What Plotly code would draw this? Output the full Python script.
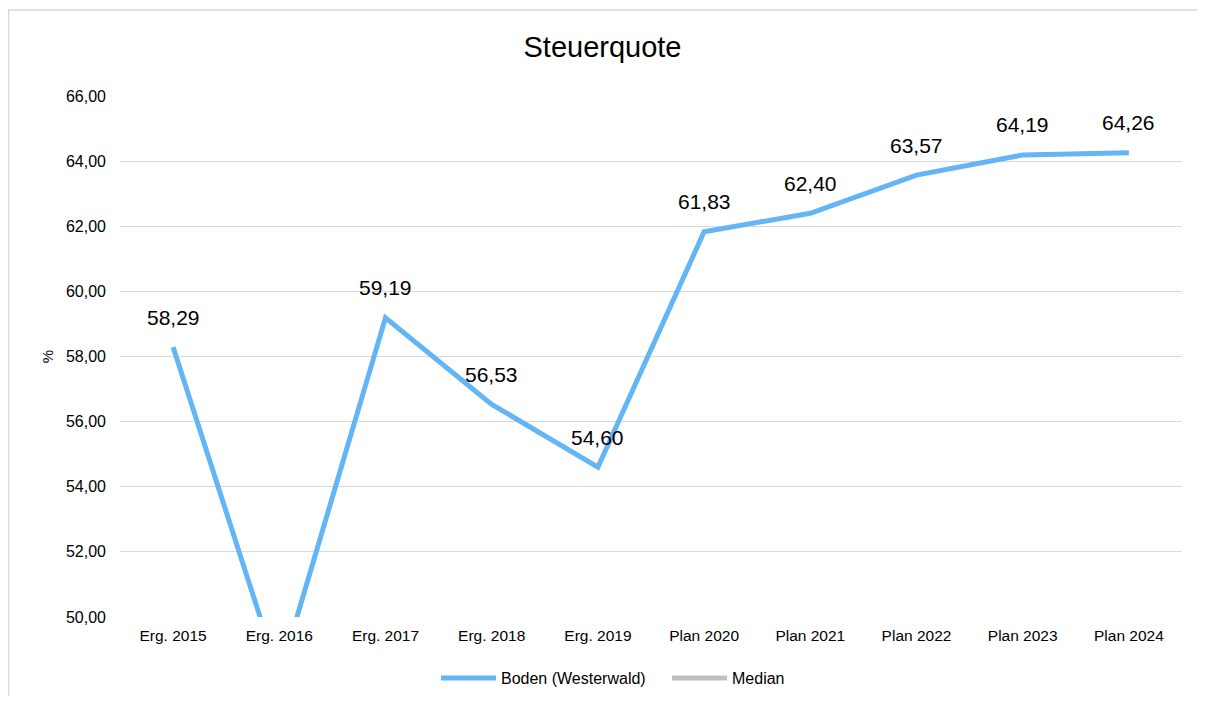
import plotly.graph_objects as go

categories = ["Erg. 2015", "Erg. 2016", "Erg. 2017", "Erg. 2018", "Erg. 2019",
              "Plan 2020", "Plan 2021", "Plan 2022", "Plan 2023", "Plan 2024"]
boden = [58.29, 48.17, 59.19, 56.53, 54.60, 61.83, 62.40, 63.57, 64.19, 64.26]
median = [None] * len(categories)
y_ticks = [50, 52, 54, 56, 58, 60, 62, 64, 66]
y_min, y_max = 50, 66

# page body has an 8px margin; work in screen coordinates then offset
OFF = 8
FW, FH = 1205 - 2 * OFF, 704 - 2 * OFF
PL, PR, PT, PB = 120, 1182, 96, 617  # plot area in screen coords
ML, MT = PL - OFF, PT - OFF
MR, MB = FW - (PR - OFF), FH - (PB - OFF)
PW, PH = PR - PL, PB - PT

def py(y_screen):
    return (PB - y_screen) / PH

def px(x_screen):
    return (x_screen - PL) / PW

fig = go.Figure()
fig.add_trace(go.Scatter(
    x=categories, y=boden, name="Boden (Westerwald)", mode="lines",
    line=dict(color="#64b5f6", width=5),
))
fig.add_trace(go.Scatter(
    x=categories, y=median, name="Median", mode="lines",
    line=dict(color="#bfbfbf", width=5),
))

annotations = []
for c, v in zip(categories, boden):
    if y_min <= v <= y_max:
        annotations.append(dict(
            x=c, y=v, xref="x", yref="y", text=f"{v:.2f}".replace(".", ","),
            showarrow=False, yshift=30, yanchor="middle",
            font=dict(size=21, color="#000000", family="Liberation Sans"),
        ))

fig.update_layout(
    width=FW, height=FH,
    margin=dict(l=ML, r=MR, t=MT, b=MB, autoexpand=False),
    paper_bgcolor="white", plot_bgcolor="white",
    separators=",.",
    font=dict(family="Liberation Sans", size=15.5, color="#000000"),
    title=dict(text="Steuerquote", x=0.5, xanchor="center",
               y=1 - (47 - OFF) / FH, yanchor="middle",
               font=dict(size=29, family="Liberation Sans", color="#000000")),
    xaxis=dict(range=[-0.5, len(categories) - 0.5], automargin=False,
               showgrid=False, showline=False, ticks="", tickfont=dict(size=15.5),
               ticklabelstandoff=7),
    yaxis=dict(range=[y_min, y_max], tickvals=y_ticks, tickformat=".2f", automargin=False,
               showgrid=True, gridcolor="#d9d9d9", gridwidth=1,
               zeroline=False, showline=False, ticks="",
               ticklabelstandoff=13, tickfont=dict(size=16),
               title=dict(text="%", standoff=8, font=dict(size=15))),
    showlegend=True,
    legend=dict(orientation="h", x=px(436), xanchor="left", y=py(678), yanchor="middle",
                font=dict(size=16), itemwidth=55, tracegroupgap=0,
                entrywidth=161, entrywidthmode="pixels"),
    annotations=annotations,
    shapes=[dict(type="rect", xref="paper", yref="paper",
                 x0=px(OFF + 0.5), x1=px(1220), y0=py(10), y1=py(720),
                 line=dict(color="#d9d9d9", width=1.5), fillcolor="rgba(0,0,0,0)",
                 layer="below")],
)

fig.write_html("out.html")
